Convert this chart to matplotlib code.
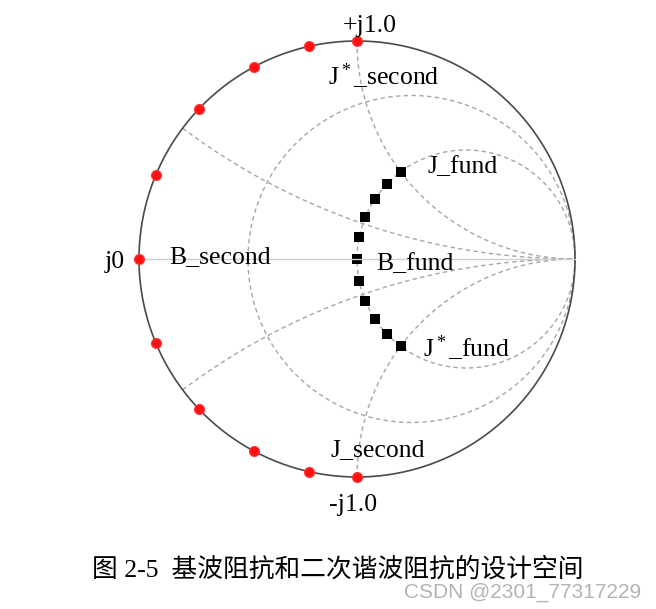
import numpy as np
import matplotlib
matplotlib.use("Agg")
import matplotlib.pyplot as plt

# ---- data ----
reactances = [-1.0, -0.8, -0.6, -0.4, -0.2, 0.0, 0.2, 0.4, 0.6, 0.8, 1.0]
second_r = [0.0] * len(reactances)     # second-harmonic impedances: j x
fund_r = [1.0] * len(reactances)       # fundamental impedances: 1 + j x
grid_r = [1/3, 1.0]
grid_x = [1/3, 1.0]
labels = {
    "+j1.0": (343, 32), "J$^*$_second": (328, 85), "J_fund": (428, 173),
    "j0": (105, 268), "B_second": (169, 263), "B_fund": (376, 270),
    "J$^*$_fund": (423, 357), "J_second": (331, 456), "-j1.0": (329, 511),
}
caption = "图 2-5  基波阻抗和二次谐波阻抗的设计空间"
watermark = "CSDN @2301_77317229"

plt.rcParams['mathtext.fontset'] = 'custom'
plt.rcParams['mathtext.rm'] = 'Liberation Serif'
plt.rcParams['mathtext.it'] = 'Liberation Serif'
plt.rcParams['mathtext.bf'] = 'Liberation Serif'

W, H = 656, 609
CX, CY, R = 357, 259, 218
fig = plt.figure(figsize=(W / 100, H / 100), dpi=100)
ax = fig.add_axes([0, 0, 1, 1])
ax.set_xlim(-CX / R, (W - CX) / R)
ax.set_ylim(-(H - CY) / R, CY / R)
ax.axis('off')

def gamma(z):
    z = np.asarray(z, dtype=complex)
    return (z - 1) / (z + 1)

grid_kw = dict(color='#a6a6a6', lw=1.0, ls=(0, (3.2, 2.4)), zorder=1)
t = np.concatenate([-np.logspace(3, -3, 800), [0], np.logspace(-3, 3, 800)])
for r in grid_r:
    g = gamma(r + 1j * t)
    ax.plot(g.real, g.imag, **grid_kw)
tp = np.logspace(-4, 3, 1500)
for x in grid_x:
    for s in (1, -1):
        g = gamma(tp + 1j * s * x)
        ax.plot(g.real, g.imag, **grid_kw)

# real axis
ax.plot([-1, 1], [0, 0], color='#cfcfcf', lw=1.0, zorder=3)
# unit circle
th = np.linspace(0, 2 * np.pi, 721)
ax.plot(np.cos(th), np.sin(th), color='#4a4a4a', lw=1.2, zorder=2)

gs = gamma(np.array(second_r) + 1j * np.array(reactances))
ax.plot(gs.real, gs.imag, 'o', color='#ff1010', ms=7.2, mec='#ff3a3a', mew=0.8, zorder=5)
gf = gamma(np.array(fund_r) + 1j * np.array(reactances))
ax.plot(gf.real, gf.imag, 's', color='black', ms=7, mew=0, zorder=2.5)

for txt, (px, py) in labels.items():
    fig.text(px / W, 1 - py / H, txt, fontsize=18.5, family='Liberation Serif',
             ha='left', va='baseline', zorder=6)

fig.text(92 / W, 1 - 569 / H, caption, fontsize=18.5,
         family=['Liberation Serif', 'Noto Sans CJK SC'], ha='left', va='center')
fig.text(641 / W, 1 - 592 / H, watermark, fontsize=15, family='Liberation Sans',
         color='#b4b4b4', ha='right', va='center')

fig.savefig('out.png', dpi=100)
